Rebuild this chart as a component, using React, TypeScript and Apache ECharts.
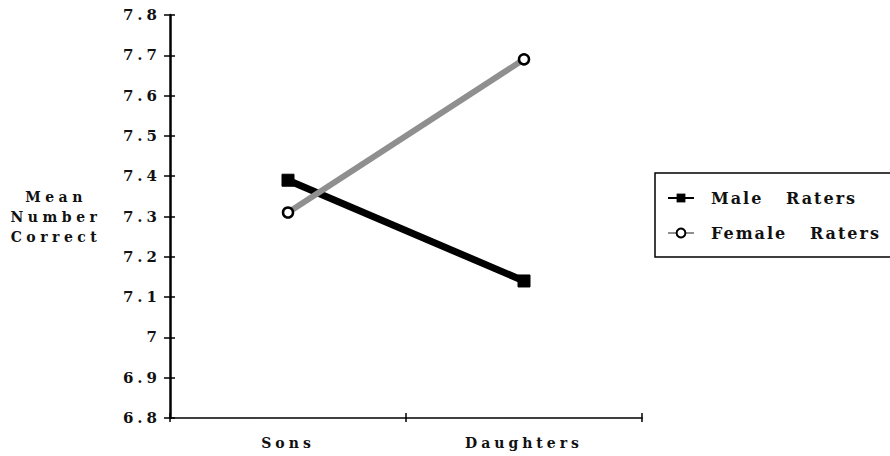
import React, { useEffect, useRef } from "react";
import * as echarts from "echarts";

const categories = ["Sons", "Daughters"];
const maleRaters = [7.39, 7.14];
const femaleRaters = [7.31, 7.69];
const yMin = 6.8;
const yMax = 7.8;
const yInterval = 0.1;
const seriesNames = ["Male   Raters", "Female   Raters"];
const yTitle = "Mean\nNumber\nCorrect";

const SERIF = "DejaVu Serif";

export default function App() {
  const ref = useRef<HTMLDivElement>(null);
  useEffect(() => {
    if (!ref.current) return;
    const chart = echarts.init(ref.current, null, { renderer: "svg" });
    const yBase = { type: "value", min: yMin, max: yMax, interval: yInterval, splitLine: { show: false } };
    chart.setOption({
      animation: false,
      backgroundColor: "#ffffff",
      grid: { left: 170, right: 248, top: 15, bottom: 38, containLabel: false },
      xAxis: [
        {
          type: "category",
          data: categories,
          boundaryGap: true,
          axisLine: { lineStyle: { color: "#000", width: 1.5 } },
          axisTick: { show: true, length: 4, alignWithLabel: false, lineStyle: { color: "#000", width: 1.5 } },
          axisLabel: { color: "#111", fontFamily: SERIF, fontWeight: "bold", fontSize: 14, margin: 18 },
          splitLine: { show: false },
        },
        {
          type: "category",
          data: categories,
          position: "bottom",
          boundaryGap: true,
          axisLine: { show: false },
          axisTick: { show: true, inside: true, length: 5, alignWithLabel: false, lineStyle: { color: "#000", width: 1.5 } },
          axisLabel: { show: false },
          splitLine: { show: false },
        },
      ],
      yAxis: [
        {
          ...yBase,
          axisLine: { show: true, lineStyle: { color: "#000", width: 2.5 } },
          axisTick: { show: true, length: 6, lineStyle: { color: "#000", width: 1.5 } },
          axisLabel: {
            color: "#111",
            fontFamily: SERIF,
            fontWeight: "bold",
            fontSize: 15,
            margin: 9,
            formatter: (v: number) => String(Math.round(v * 10) / 10),
          },
        },
        {
          ...yBase,
          position: "left",
          axisLine: { show: false },
          axisTick: { show: true, inside: true, length: 5, lineStyle: { color: "#000", width: 1.5 } },
          axisLabel: { show: false },
        },
      ],
      legend: {
        left: 662,
        top: 185,
        orient: "vertical",
        itemGap: 19,
        itemWidth: 26,
        itemHeight: 11,
        textStyle: { color: "#111", fontFamily: SERIF, fontWeight: "bold", fontSize: 16, padding: [0, 0, 0, 12] },
        data: seriesNames,
      },
      graphic: [
        {
          type: "rect",
          shape: { x: 655, y: 173, width: 245, height: 84 },
          style: { fill: "none", stroke: "#000", lineWidth: 1.5 },
          z: 10,
        },
        {
          type: "text",
          x: 56,
          y: 217,
          style: {
            text: yTitle,
            fill: "#111",
            fontFamily: SERIF,
            fontWeight: "bold",
            fontSize: 14,
            align: "center",
            verticalAlign: "middle",
            lineHeight: 20,
          },
        },
      ],
      series: [
        {
          name: seriesNames[0],
          type: "line",
          data: maleRaters,
          symbol: "rect",
          symbolSize: 12,
          lineStyle: { color: "#000", width: 7 },
          itemStyle: { color: "#000", borderColor: "#000" },
          z: 3,
        },
        {
          name: seriesNames[1],
          type: "line",
          data: femaleRaters,
          symbol: "circle",
          symbolSize: 10,
          lineStyle: { color: "#8f8f8f", width: 6 },
          itemStyle: { color: "#fff", borderColor: "#000", borderWidth: 2.5 },
          z: 4,
        },
      ],
    });
    const applySpacing = () => {
      const texts = ref.current?.querySelectorAll("text") || [];
      texts.forEach((t) => {
        const s = t.textContent || "";
        let sp = 4.5;
        if (/^\d(\.\d)?$/.test(s)) sp = 4;
        else if (s === "Sons" || s === "Daughters") sp = 4;
        else if (s.includes("Raters")) sp = 2;
        t.setAttribute("letter-spacing", sp + "px");
      });
    };
    applySpacing();
    chart.on("finished", applySpacing);
    return () => chart.dispose();
  }, []);
  return <div ref={ref} style={{ width: 890, height: 456, position: "absolute", left: 0, top: 0 }} />;
}
